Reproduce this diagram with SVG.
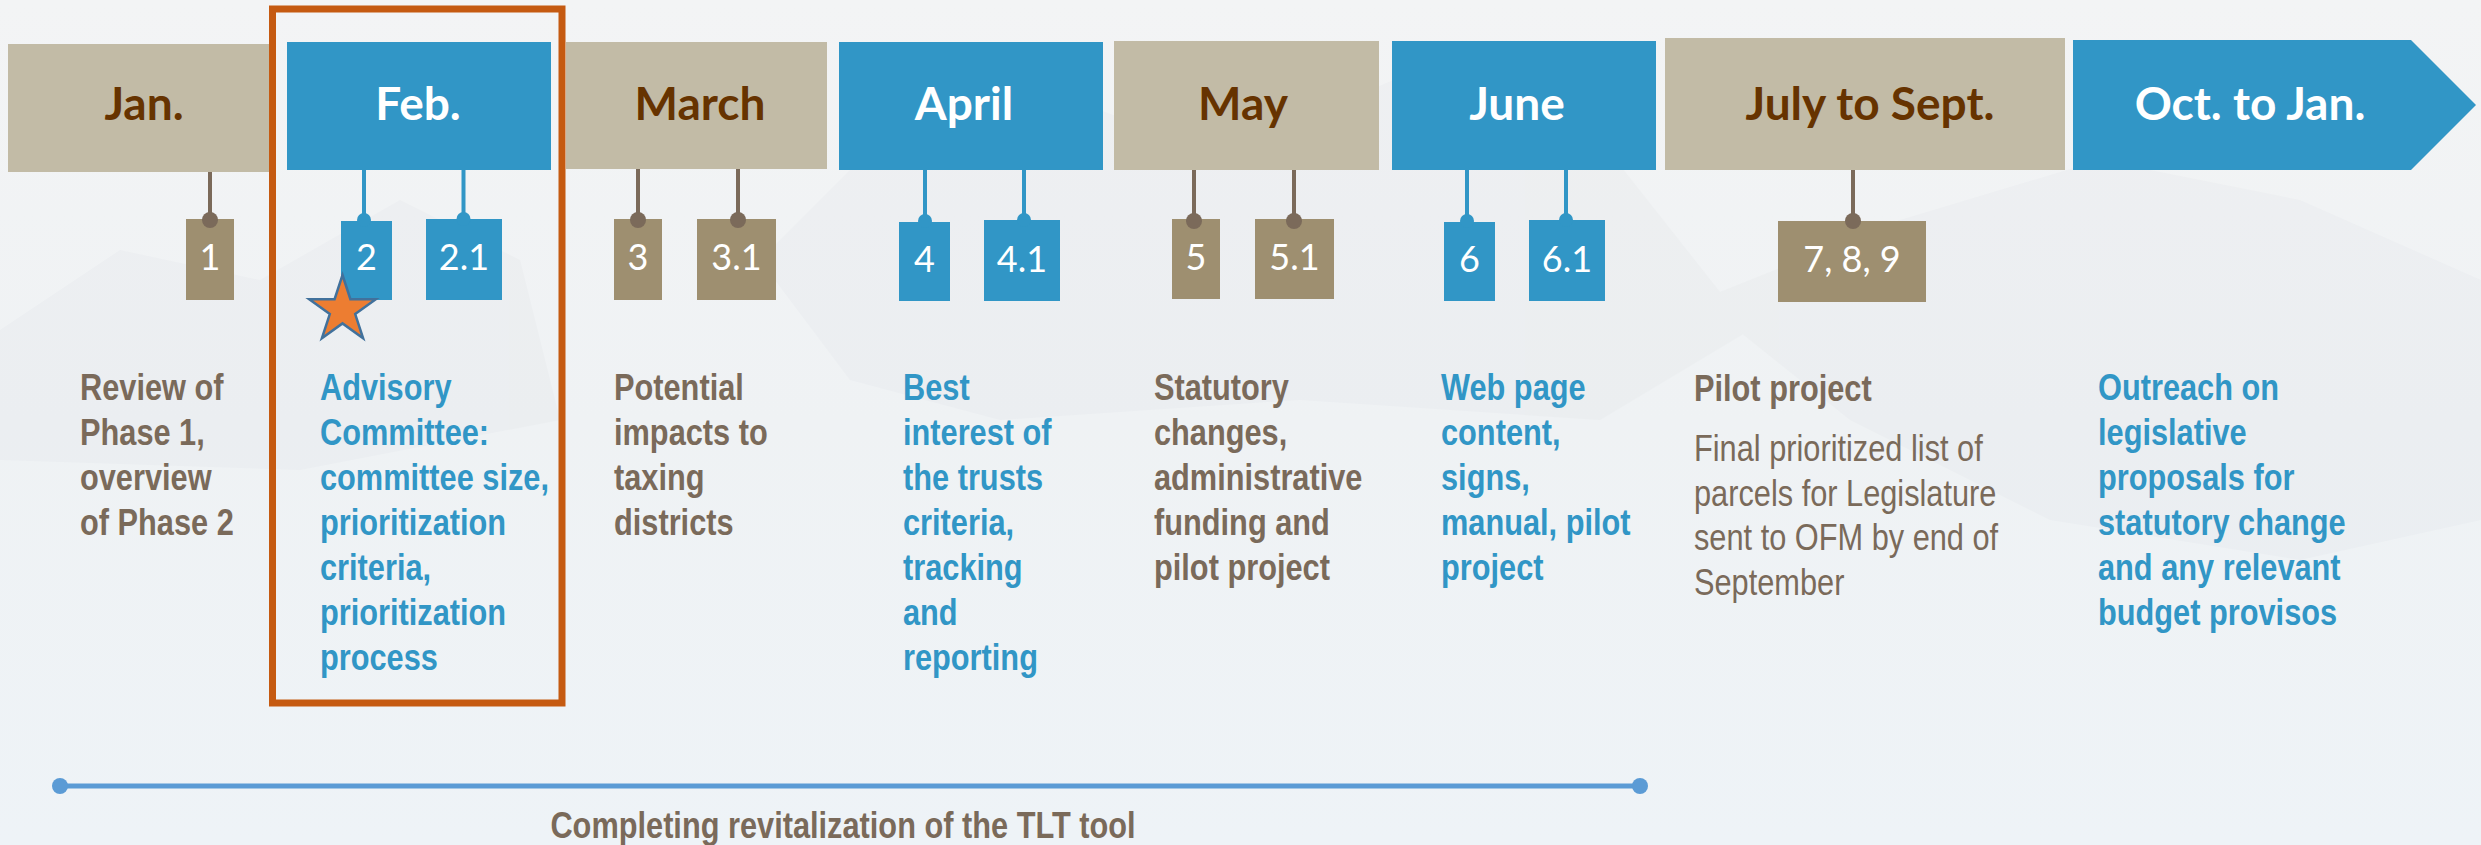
<svg xmlns="http://www.w3.org/2000/svg" width="2481" height="845" viewBox="0 0 2481 845">
  <defs>
    <linearGradient id="bg" x1="0" y1="0" x2="0" y2="1">
      <stop offset="0" stop-color="#F3F4F5"/>
      <stop offset="0.5" stop-color="#EFF2F4"/>
      <stop offset="1" stop-color="#EEF3F7"/>
    </linearGradient>
    <style>
      .tan{fill:#C2BBA6}
      .blue{fill:#3196C6}
      .tagTan{fill:#9E8F70}
      .tagBlue{fill:#3196C6}
      .lnTan{stroke:#7B6A5A;stroke-width:4}
      .lnBlue{stroke:#3196C6;stroke-width:4}
      .month{font-family:Lato,"Liberation Sans",sans-serif;font-weight:bold;font-size:46px;text-anchor:middle}
      .mTan{fill:#663300}
      .mBlue{fill:#FFFFFF}
      .tagTxt{font-family:Lato,"Liberation Sans",sans-serif;font-size:36px;fill:#FFFFFF;text-anchor:middle}
      .desc{font-family:"Liberation Sans",Arial,sans-serif;font-weight:bold;font-size:37.5px}
      .descReg{font-family:"Liberation Sans",Arial,sans-serif;font-weight:normal;font-size:37.5px}
      .dBrown{fill:#7A6A5A}
      .dBlue{fill:#3196C6}
    </style>
  </defs>

  <!-- background -->
  <rect x="0" y="0" width="2481" height="845" fill="url(#bg)"/>
  <g fill="#8A8F94" opacity="0.03">
    <path d="M0 330 L120 250 L260 280 L400 200 L520 260 L560 420 L300 470 L0 460 Z"/>
    <path d="M760 260 L900 120 L1020 80 L1180 140 L1300 120 L1440 60 L1600 140 L1750 330 L1600 420 L1300 400 L1000 420 L850 380 Z"/>
    <path d="M1700 300 L1900 220 L2100 160 L2300 200 L2481 280 L2481 520 L2300 560 L2050 520 L1850 420 Z"/>
  </g>

  <!-- connectors: hanging lines from month boxes to tags -->
  <g id="connectors">
    <line class="lnTan" x1="210" y1="170" x2="210" y2="220"/>
    <line class="lnBlue" x1="364" y1="170" x2="364" y2="220"/>
    <line class="lnBlue" x1="463.5" y1="170" x2="463.5" y2="220"/>
    <line class="lnTan" x1="638" y1="169" x2="638" y2="220"/>
    <line class="lnTan" x1="738" y1="169" x2="738" y2="220"/>
    <line class="lnBlue" x1="925" y1="170" x2="925" y2="220"/>
    <line class="lnBlue" x1="1024" y1="170" x2="1024" y2="220"/>
    <line class="lnTan" x1="1194" y1="170" x2="1194" y2="220"/>
    <line class="lnTan" x1="1294" y1="170" x2="1294" y2="220"/>
    <line class="lnBlue" x1="1467" y1="170" x2="1467" y2="220"/>
    <line class="lnBlue" x1="1566" y1="170" x2="1566" y2="220"/>
    <line class="lnTan" x1="1853" y1="170" x2="1853" y2="220"/>
  </g>

  <!-- month boxes -->
  <g id="jan"><rect class="tan" x="8" y="44" width="262" height="128"/><text class="month mTan" x="144" y="120">Jan.</text></g>
  <g id="feb"><rect class="blue" x="287" y="42" width="264" height="128"/><text class="month mBlue" x="418" y="120">Feb.</text></g>
  <g id="march"><rect class="tan" x="566" y="42" width="261" height="127"/><text class="month mTan" x="700" y="120">March</text></g>
  <g id="april"><rect class="blue" x="839" y="42" width="264" height="128"/><text class="month mBlue" x="964" y="120">April</text></g>
  <g id="may"><rect class="tan" x="1114" y="41" width="265" height="129"/><text class="month mTan" x="1243" y="120">May</text></g>
  <g id="june"><rect class="blue" x="1392" y="41" width="264" height="129"/><text class="month mBlue" x="1517" y="120">June</text></g>
  <g id="july-sept"><rect class="tan" x="1665" y="38" width="400" height="132"/><text class="month mTan" x="1870" y="120">July to Sept.</text></g>
  <g id="oct-jan"><path class="blue" d="M2073 40 L2411 40 L2476 105 L2411 170 L2073 170 Z"/><text class="month mBlue" x="2250" y="120">Oct. to Jan.</text></g>

  <!-- tags -->
  <g id="tag-1"><rect class="tagTan" x="186" y="219" width="48" height="81"/><circle cx="210" cy="220" r="8" fill="#7B6A5A"/><text class="tagTxt" x="210" y="270">1</text></g>
  <g id="tag-2"><rect class="tagBlue" x="341" y="221" width="51" height="79"/><circle cx="364" cy="220" r="7" fill="#3196C6"/><text class="tagTxt" x="366.5" y="270">2</text></g>
  <g id="tag-2-1"><rect class="tagBlue" x="426" y="219" width="76" height="81"/><circle cx="463.5" cy="219" r="7" fill="#3196C6"/><text class="tagTxt" x="464" y="270">2.1</text></g>
  <g id="tag-3"><rect class="tagTan" x="614" y="219" width="48" height="81"/><circle cx="638" cy="220" r="8" fill="#7B6A5A"/><text class="tagTxt" x="638" y="270">3</text></g>
  <g id="tag-3-1"><rect class="tagTan" x="697" y="219" width="79" height="81"/><circle cx="738" cy="220" r="8" fill="#7B6A5A"/><text class="tagTxt" x="736.5" y="270">3.1</text></g>
  <g id="tag-4"><rect class="tagBlue" x="899" y="222" width="51" height="79"/><circle cx="925" cy="221" r="7" fill="#3196C6"/><text class="tagTxt" x="924.5" y="272">4</text></g>
  <g id="tag-4-1"><rect class="tagBlue" x="984" y="220" width="76" height="81"/><circle cx="1024" cy="220" r="7" fill="#3196C6"/><text class="tagTxt" x="1022" y="272">4.1</text></g>
  <g id="tag-5"><rect class="tagTan" x="1172" y="219" width="48" height="80"/><circle cx="1194" cy="221" r="8" fill="#7B6A5A"/><text class="tagTxt" x="1196" y="270">5</text></g>
  <g id="tag-5-1"><rect class="tagTan" x="1255" y="219" width="79" height="80"/><circle cx="1294" cy="221" r="8" fill="#7B6A5A"/><text class="tagTxt" x="1294.5" y="270">5.1</text></g>
  <g id="tag-6"><rect class="tagBlue" x="1444" y="222" width="51" height="79"/><circle cx="1467" cy="221" r="7" fill="#3196C6"/><text class="tagTxt" x="1469.5" y="272">6</text></g>
  <g id="tag-6-1"><rect class="tagBlue" x="1529" y="220" width="76" height="81"/><circle cx="1566" cy="220" r="7" fill="#3196C6"/><text class="tagTxt" x="1567" y="272">6.1</text></g>
  <g id="tag-7-8-9"><rect class="tagTan" x="1778" y="221" width="148" height="81"/><circle cx="1853" cy="221" r="8" fill="#7B6A5A"/><text class="tagTxt" x="1852" y="272">7, 8, 9</text></g>

  <!-- star marker -->
  <g id="star">
    <polygon points="342.5,275 350.4,299.2 375.8,299.2 355.2,314.1 363.1,338.3 342.5,323.4 321.9,338.3 329.8,314.1 309.2,299.2 334.6,299.2" fill="#ED7D31" stroke="#41719C" stroke-width="2.5" stroke-linejoin="miter"/>
  </g>

  <!-- descriptions -->
  <g id="desc-jan" transform="translate(80,0) scale(0.82,1)">
    <text class="desc dBrown"><tspan x="0" y="400">Review of</tspan><tspan x="0" y="445">Phase 1,</tspan><tspan x="0" y="490">overview</tspan><tspan x="0" y="535">of Phase 2</tspan></text>
  </g>
  <g id="desc-feb" transform="translate(320,0) scale(0.82,1)">
    <text class="desc dBlue"><tspan x="0" y="400">Advisory</tspan><tspan x="0" y="445">Committee:</tspan><tspan x="0" y="490">committee size,</tspan><tspan x="0" y="535">prioritization</tspan><tspan x="0" y="580">criteria,</tspan><tspan x="0" y="625">prioritization</tspan><tspan x="0" y="670">process</tspan></text>
  </g>
  <g id="desc-march" transform="translate(614,0) scale(0.82,1)">
    <text class="desc dBrown"><tspan x="0" y="400">Potential</tspan><tspan x="0" y="445">impacts to</tspan><tspan x="0" y="490">taxing</tspan><tspan x="0" y="535">districts</tspan></text>
  </g>
  <g id="desc-april" transform="translate(903,0) scale(0.82,1)">
    <text class="desc dBlue"><tspan x="0" y="400">Best</tspan><tspan x="0" y="445">interest of</tspan><tspan x="0" y="490">the trusts</tspan><tspan x="0" y="535">criteria,</tspan><tspan x="0" y="580">tracking</tspan><tspan x="0" y="625">and</tspan><tspan x="0" y="670">reporting</tspan></text>
  </g>
  <g id="desc-may" transform="translate(1154,0) scale(0.82,1)">
    <text class="desc dBrown"><tspan x="0" y="400">Statutory</tspan><tspan x="0" y="445">changes,</tspan><tspan x="0" y="490">administrative</tspan><tspan x="0" y="535">funding and</tspan><tspan x="0" y="580">pilot project</tspan></text>
  </g>
  <g id="desc-june" transform="translate(1441,0) scale(0.82,1)">
    <text class="desc dBlue"><tspan x="0" y="400">Web page</tspan><tspan x="0" y="445">content,</tspan><tspan x="0" y="490">signs,</tspan><tspan x="0" y="535">manual, pilot</tspan><tspan x="0" y="580">project</tspan></text>
  </g>
  <g id="desc-july-sept" transform="translate(1694,0) scale(0.82,1)">
    <text class="desc dBrown"><tspan x="0" y="401">Pilot project</tspan></text>
    <text class="descReg dBrown"><tspan x="0" y="461">Final prioritized list of</tspan><tspan x="0" y="506">parcels for Legislature</tspan><tspan x="0" y="550">sent to OFM by end of</tspan><tspan x="0" y="595">September</tspan></text>
  </g>
  <g id="desc-oct-jan" transform="translate(2098,0) scale(0.82,1)">
    <text class="desc dBlue"><tspan x="0" y="400">Outreach on</tspan><tspan x="0" y="445">legislative</tspan><tspan x="0" y="490">proposals for</tspan><tspan x="0" y="535">statutory change</tspan><tspan x="0" y="580">and any relevant</tspan><tspan x="0" y="625">budget provisos</tspan></text>
  </g>

  <!-- highlight frame around February -->
  <g id="feb-highlight">
    <rect x="272.5" y="9" width="289.5" height="694" fill="none" stroke="#C55A11" stroke-width="7"/>
  </g>

  <!-- bottom span -->
  <g id="span">
    <line x1="60" y1="786" x2="1640" y2="786" stroke="#5B9BD5" stroke-width="5"/>
    <circle cx="60" cy="786" r="8" fill="#5B9BD5"/>
    <circle cx="1640" cy="786" r="8" fill="#5B9BD5"/>
    <g transform="translate(843,0) scale(0.82,1)">
      <text class="desc dBrown" x="0" y="838" text-anchor="middle">Completing revitalization of the TLT tool</text>
    </g>
  </g>
</svg>
